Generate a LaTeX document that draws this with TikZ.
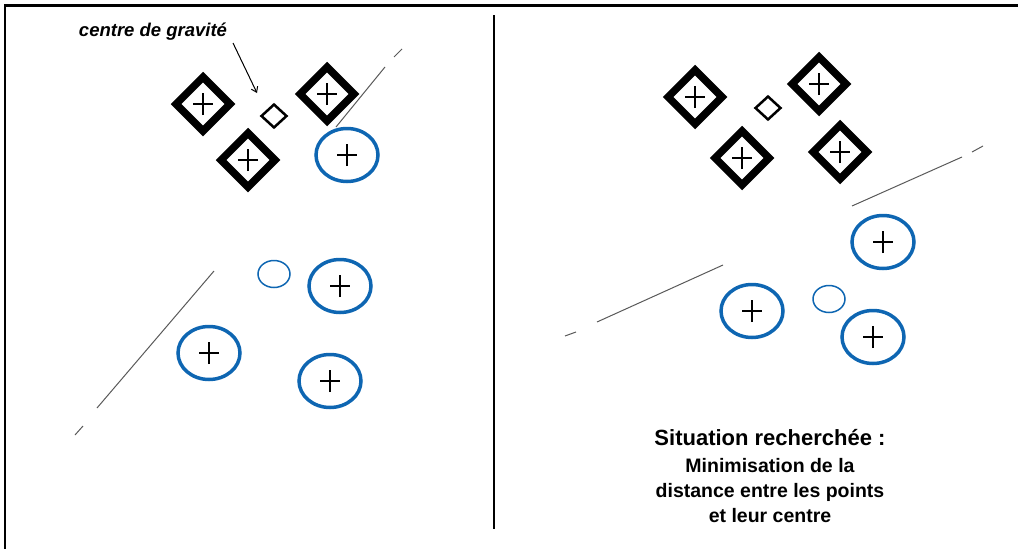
\documentclass[tikz,border=0pt]{standalone}
\usepackage{fontspec}
\setmainfont{Liberation Sans}
\usetikzlibrary{shapes.geometric,arrows.meta}
\definecolor{cblue}{RGB}{14,102,178}
\newcommand{\plusmark}{%
  \draw[line width=2pt,black] ([xshift=-10pt]path picture bounding box.center) -- ([xshift=10pt]path picture bounding box.center);
  \draw[line width=2pt,black] ([yshift=-11pt]path picture bounding box.center) -- ([yshift=11pt]path picture bounding box.center);}
\begin{document}
\begin{tikzpicture}[x=1pt,y=-1pt,
  bigdiamond/.style={diamond, draw, line width=7.5pt, minimum width=57pt, minimum height=57pt, inner sep=0pt, path picture={\plusmark}},
  smalldiamond/.style={diamond, draw, line width=2.5pt, minimum width=26pt, minimum height=24pt, inner sep=0pt},
  bigcircle/.style={ellipse, draw=cblue, line width=3.5pt, minimum width=62pt, minimum height=53pt, inner sep=0pt, path picture={\plusmark}},
  smallcircle/.style={ellipse, draw=cblue, line width=1.5pt, minimum width=32pt, minimum height=27pt, inner sep=0pt},
  sepline/.style={black!65, line width=1pt},
  frame/.style={line width=2.2pt}]
\useasboundingbox (0,0) rectangle (1018,549);
% frame and divider
\draw[frame] (5,549) -- (5,5.5) -- (1018,5.5);
\draw[line width=1.5pt] (494,15) -- (494,529);

% ---------- left panel ----------
\node[bigdiamond] (d1) at (203,104) {};
\node[bigdiamond] (d2) at (248,160) {};
\node[bigdiamond] (d3) at (327,94) {};
\node[smalldiamond] (g1) at (274,116) {};
\node[bigcircle] (c1) at (347,155) {};
\node[bigcircle] (c2) at (340,286) {};
\node[bigcircle] (c3) at (209,353) {};
\node[bigcircle] (c4) at (330,381) {};
\node[smallcircle] (g2) at (274,274) {};

\node[font=\fontsize{18.5}{18.5}\selectfont\bfseries\itshape, inner sep=0pt] (lbl) at (153,32) {centre de gravité};
\coordinate (arrs) at (233,43);
\coordinate (arre) at (257,93);
\draw[line width=1pt, -{Straight Barb[length=5pt,width=7pt]}] (arrs) -- (arre);

\draw[sepline] (336,127) -- (385,67);
\draw[sepline] (394,57) -- (402,49);
\draw[sepline] (214,271) -- (97,408);
\draw[sepline] (83,426) -- (75,435);

% ---------- right panel ----------
\node[bigdiamond] (d4) at (695,97) {};
\node[bigdiamond] (d5) at (819,84) {};
\node[bigdiamond] (d6) at (742,158) {};
\node[bigdiamond] (d7) at (840,152) {};
\node[smalldiamond] (g3) at (768,108) {};
\node[bigcircle] (c5) at (883,242) {};
\node[bigcircle] (c6) at (752,311) {};
\node[bigcircle] (c7) at (873,337) {};
\node[smallcircle] (g4) at (829,299) {};

\draw[sepline] (852,206) -- (962,157);
\draw[sepline] (972,152) -- (983,146);
\draw[sepline] (597,322) -- (723,265);
\draw[sepline] (565,336) -- (576,332);

\node[font=\fontsize{22}{22}\selectfont\bfseries, inner sep=0pt] (title) at (770,438) {Situation recherchée :};
\node[font=\fontsize{19.5}{25}\selectfont\bfseries, align=center, inner sep=0pt] (sub) at (770,491) {Minimisation de la\\distance entre les points\\et leur centre};
\end{tikzpicture}
\end{document}
